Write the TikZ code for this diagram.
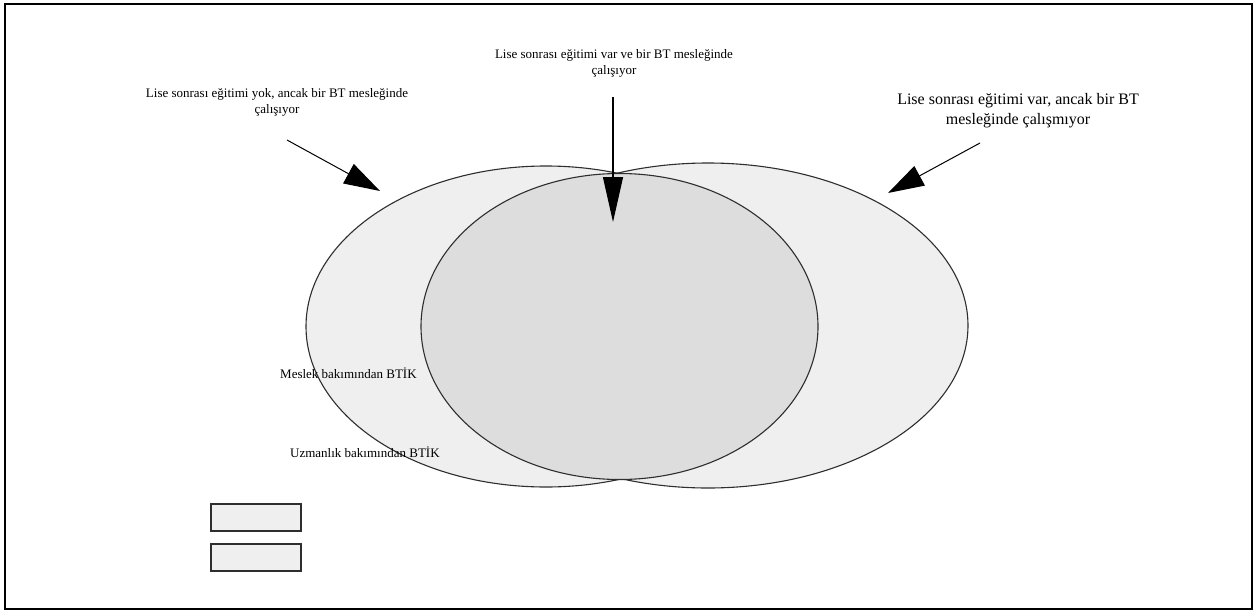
\documentclass[tikz,border=0pt]{standalone}
\usepackage{fontspec}
\setmainfont{Liberation Serif}
\usetikzlibrary{arrows.meta}
\definecolor{outerfill}{HTML}{EFEFEF}
\definecolor{innerfill}{HTML}{DDDDDD}
\definecolor{edge}{HTML}{2E2E2E}

\begin{document}
\begin{tikzpicture}[x=1pt,y=-1pt,
  lbl/.style={align=center,inner sep=0pt,font=\fontsize{13}{16}\selectfont},
  setline/.style={edge,line width=1.1pt},
  keybox/.style={draw=edge,line width=2pt,fill=outerfill,minimum width=90pt,minimum height=27pt,inner sep=0pt},
  bigarrow/.style={line width=1pt,-{Triangle[length=36pt,width=22pt]}}]
\useasboundingbox (0,0) rectangle (1259,616);
\draw[line width=1.6pt] (5,4) rectangle (1252,609);

% the two outer sets, then the overlap
\fill[outerfill] (546,326.5) ellipse[x radius=240pt,y radius=160.5pt];
\fill[outerfill] (708,325.5) ellipse[x radius=260pt,y radius=162.5pt];
\draw[setline] (546,326.5) ellipse[x radius=240pt,y radius=160.5pt];
\draw[setline] (708,325.5) ellipse[x radius=260pt,y radius=162.5pt];
\draw[setline,fill=innerfill] (619.5,326.5) ellipse[x radius=198.5pt,y radius=153pt];

% labels
\node[lbl] (noedu) at (277,102) {Lise sonrası eğitimi yok, ancak bir BT mesleğinde\\çalışıyor};
\node[lbl] (both) at (614,63) {Lise sonrası eğitimi var ve bir BT mesleğinde\\çalışıyor};
\node[lbl,font=\fontsize{16}{20}\selectfont] (eduonly) at (1018,111) {Lise sonrası eğitimi var, ancak bir BT\\mesleğinde çalışmıyor};
\node[lbl,anchor=west] (occ) at (280,373) {Meslek bakımından BTİK};
\node[lbl,anchor=west] (spec) at (290,452) {Uzmanlık bakımından BTİK};

% key boxes
\node[keybox] (keyocc) at (255.5,517) {};
\node[keybox] (keyspec) at (255.5,557) {};

% arrows
\coordinate (leftfrom) at (287,140);
\coordinate (leftto) at (380,191);
\coordinate (midfrom) at (613,97);
\coordinate (midto) at (613,222);
\coordinate (rightfrom) at (980,143);
\coordinate (rightto) at (888,193);
\draw[bigarrow] (leftfrom) -- (leftto);
\draw[line width=1.2pt,-{Triangle[length=45pt,width=20pt]}] (midfrom) -- (midto);
\draw[bigarrow] (rightfrom) -- (rightto);
\end{tikzpicture}
\end{document}
